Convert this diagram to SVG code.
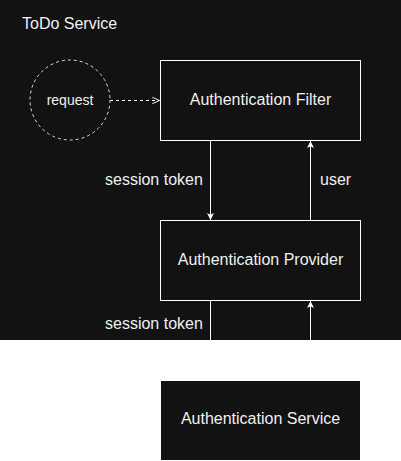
<svg xmlns="http://www.w3.org/2000/svg" width="401" height="461" viewBox="0 0 401 461">
<style>
.t{font-family:"Liberation Sans",Arial,sans-serif;fill:#f0f0f0}
.box{fill:#121212;stroke:#ffffff;stroke-width:1}
.ln{stroke:#ffffff;stroke-width:1;fill:none}
</style>
<defs>
<marker id="blk" viewBox="0 0 10 10" refX="10" refY="5" markerWidth="7" markerHeight="7" markerUnits="userSpaceOnUse" orient="auto">
<path d="M0,0 L10,5 L0,10 L2.5,5 Z" fill="#ffffff"/>
</marker>
<marker id="opn" viewBox="0 0 10 10" refX="10" refY="5" markerWidth="8" markerHeight="8" markerUnits="userSpaceOnUse" orient="auto">
<path d="M1,1 L10,5 L1,9" fill="none" stroke="#ffffff" stroke-width="1.2"/>
</marker>
</defs>
<rect width="401" height="461" fill="#ffffff"/>
<g id="todo-service">
<rect x="0" y="0" width="401" height="340" fill="#121212"/>
<text class="t" x="22" y="29" font-size="16">ToDo Service</text>
</g>
<g id="request">
<circle cx="70" cy="100" r="40" fill="none" stroke="#dddddd" stroke-width="1" stroke-dasharray="3,3"/>
<text class="t" x="70" y="104.5" font-size="14" text-anchor="middle">request</text>
</g>
<g id="auth-filter">
<rect class="box" x="160.5" y="60.5" width="200" height="80"/>
<text class="t" x="260.5" y="104.5" font-size="16" text-anchor="middle">Authentication Filter</text>
</g>
<g id="auth-provider">
<rect class="box" x="160.5" y="220.5" width="200" height="80"/>
<text class="t" x="260.5" y="264.5" font-size="16" text-anchor="middle">Authentication Provider</text>
</g>
<g id="auth-service">
<rect x="161" y="381" width="199" height="79" fill="#121212"/>
<text class="t" x="260.5" y="424" font-size="16" text-anchor="middle">Authentication Service</text>
</g>
<g id="connectors">
<line class="ln" x1="110" y1="100.5" x2="159.5" y2="100.5" stroke-dasharray="3,3" marker-end="url(#opn)"/>
<line class="ln" x1="210.5" y1="141" x2="210.5" y2="220" marker-end="url(#blk)"/>
<line class="ln" x1="310.5" y1="220" x2="310.5" y2="141" marker-end="url(#blk)"/>
<line class="ln" x1="210.5" y1="301" x2="210.5" y2="340"/>
<line class="ln" x1="310.5" y1="340" x2="310.5" y2="301" marker-end="url(#blk)"/>
<text class="t" x="105" y="185" font-size="16">session token</text>
<text class="t" x="320" y="185" font-size="16">user</text>
<text class="t" x="105" y="329" font-size="16">session token</text>
</g>
</svg>
